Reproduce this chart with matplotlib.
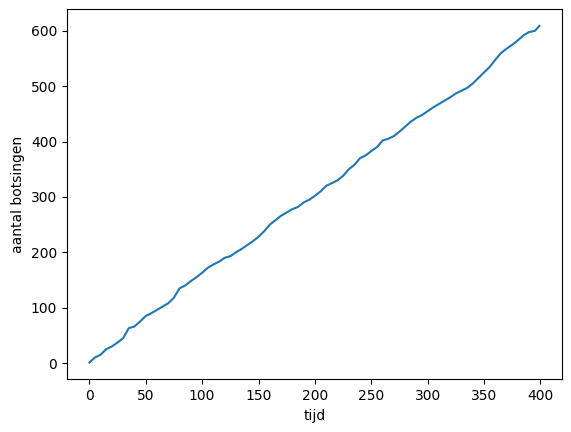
import matplotlib
matplotlib.use("Agg")
import matplotlib.pyplot as plt

tijd = [0, 5, 10, 15, 20, 25, 30, 35, 40, 45, 50, 55, 60, 65, 70, 75, 80, 85, 90, 95,
        100, 105, 110, 115, 120, 125, 130, 135, 140, 145, 150, 155, 160, 165, 170, 175,
        180, 185, 190, 195, 200, 205, 210, 215, 220, 225, 230, 235, 240, 245, 250, 255,
        260, 265, 270, 275, 280, 285, 290, 295, 300, 305, 310, 315, 320, 325, 330, 335,
        340, 345, 350, 355, 360, 365, 370, 375, 380, 385, 390, 395, 399]
botsingen = [1, 10, 15, 25, 30, 37, 45, 63, 66, 75, 85, 90, 96, 102, 108, 118, 135, 140,
             148, 155, 163, 172, 178, 183, 190, 193, 200, 206, 213, 220, 228, 238, 250,
             258, 266, 272, 278, 282, 290, 295, 302, 310, 320, 325, 330, 338, 350, 358,
             370, 375, 383, 390, 402, 405, 410, 418, 427, 436, 443, 448, 455, 462, 468,
             474, 480, 487, 492, 497, 505, 515, 525, 535, 548, 560, 568, 575, 583, 592,
             598, 600, 609]

fig = plt.figure(figsize=(5.71, 4.32), dpi=100)
ax = fig.add_subplot(111)
fig.subplots_adjust(left=0.117, right=0.984, bottom=0.122, top=0.979)
ax.plot(tijd, botsingen)
ax.set_xlabel('tijd')
ax.set_ylabel('aantal botsingen')
fig.savefig('out.png')
